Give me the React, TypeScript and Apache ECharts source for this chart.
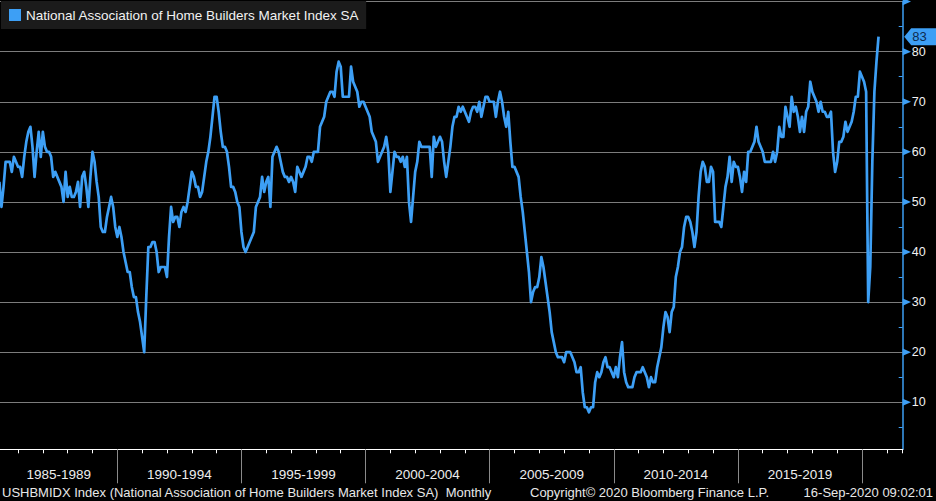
import React, { useEffect, useRef } from "react";
import * as echarts from "echarts";

const START_YEAR = 1985;
const START_MONTH = 4; // first monthly observation: April 1985

const hmi1985_1989 = [
  54, 49, 53, 58, 58, 58, 56, 59, 58,
  57, 57, 55, 59, 62, 64, 65, 61, 55, 60, 64, 59,
  64, 61, 60, 60, 59, 55, 56, 55, 54, 53, 50, 56,
  51, 53, 51, 51, 52, 54, 49, 55, 56, 53, 49, 55,
  60, 58, 54, 51, 45, 44, 44, 47, 49, 51, 49, 45,
];
const hmi1990_1994 = [
  43, 45, 43, 40, 38, 36, 36, 33, 31, 31, 28, 26,
  23, 20, 31, 41, 41, 42, 42, 40, 36, 37, 37, 37,
  35, 43, 49, 46, 47, 47, 45, 48, 49, 48, 50, 53,
  56, 55, 53, 53, 51, 52, 55, 58, 60, 63, 67, 71,
  71, 68, 64, 61, 61, 60, 57, 53, 53, 52, 50, 49,
];
const hmi1995_1999 = [
  44, 41, 40, 41, 42, 43, 44, 49, 50, 51, 55, 52,
  54, 55, 49, 59, 60, 61, 60, 58, 56, 55, 55, 54,
  55, 54, 52, 57, 56, 55, 56, 57, 59, 59, 58, 60,
  60, 60, 65, 66, 67, 70, 71, 72, 72, 71, 76, 78,
  77, 71, 71, 71, 71, 77, 74, 73, 72, 69, 70, 70,
];
const hmi2000_2004 = [
  69, 68, 67, 64, 63, 62, 58, 59, 60, 61, 63, 60,
  52, 56, 60, 59, 59, 58, 59, 57, 59, 50, 46, 51,
  56, 58, 62, 61, 61, 61, 61, 61, 55, 63, 61, 62,
  63, 62, 58, 55, 58, 61, 65, 67, 67, 69, 68, 69,
  68, 67, 66, 68, 69, 69, 68, 70, 67, 69, 71, 71,
];
const hmi2005_2009 = [
  70, 70, 70, 67, 70, 72, 70, 67, 65, 68, 62, 57,
  57, 56, 55, 51, 48, 44, 40, 36, 30, 32, 33, 33,
  35, 39, 37, 34, 31, 28, 24, 22, 20, 19, 19, 19,
  18, 20, 20, 20, 19, 18, 16, 16, 17, 12, 9, 9,
  8, 9, 9, 14, 16, 15, 16, 18, 19, 17, 17, 16,
];
const hmi2010_2014 = [
  15, 17, 15, 19, 22, 16, 14, 13, 13, 13, 15, 16,
  16, 16, 17, 16, 15, 13, 15, 14, 14, 17, 19, 21,
  25, 28, 27, 24, 28, 29, 35, 37, 40, 41, 45, 47,
  47, 46, 44, 41, 44, 51, 56, 58, 57, 54, 54, 57,
  56, 46, 46, 46, 45, 49, 53, 55, 59, 54, 58, 57,
];
const hmi2015_2019 = [
  57, 55, 52, 56, 54, 60, 60, 61, 62, 65, 62, 61,
  60, 58, 58, 58, 58, 60, 58, 60, 65, 63, 63, 69,
  67, 65, 71, 68, 69, 67, 64, 67, 64, 68, 69, 74,
  72, 71, 70, 68, 70, 68, 68, 67, 67, 68, 60, 56,
  58, 62, 62, 63, 66, 64, 65, 66, 68, 71, 71, 76,
];
const hmi2020 = [75, 74, 72, 30, 37, 58, 72, 78, 83];

const bandLabels = [
  "1985-1989",
  "1990-1994",
  "1995-1999",
  "2000-2004",
  "2005-2009",
  "2010-2014",
  "2015-2019",
  "2020-2024",
];
const yTickValues = [10, 20, 30, 40, 50, 60, 70, 80, 90];
const yLabelValues = [10, 20, 30, 40, 50, 60, 70, 80];

const SERIES_NAME = "National Association of Home Builders Market Index SA";
const FOOTER_LEFT =
  "USHBMIDX Index (National Association of Home Builders Market Index SA)  Monthly";
const FOOTER_MID = "Copyright\u00A9 2020 Bloomberg Finance L.P.";
const FOOTER_RIGHT = "16-Sep-2020 09:02:01";

const BLUE = "#3d9ff5";
const FONT = "'Liberation Sans', Arial, sans-serif";

const X_MIN = 1985;
const X_MAX = 2021.64;
const Y_MIN = 0.6;
const Y_MAX = 90;

export default function App() {
  const ref = useRef<HTMLDivElement>(null);

  useEffect(() => {
    if (!ref.current) return;
    const chart = echarts.init(ref.current, null, { renderer: "svg" });

    const values = [
      ...hmi1985_1989,
      ...hmi1990_1994,
      ...hmi1995_1999,
      ...hmi2000_2004,
      ...hmi2005_2009,
      ...hmi2010_2014,
      ...hmi2015_2019,
      ...hmi2020,
    ];
    const data = values.map((v, i) => [
      START_YEAR + (START_MONTH - 1 + i) / 12,
      v,
    ]);

    const W = 936;
    const gridTop = 1.6;
    const gridBottom = 51.7;
    const gridLeft = -6.8;
    const gridRight = 33.3;
    const yearPx = (W - gridRight - gridLeft) / (X_MAX - X_MIN);
    const bandsWidth = yearPx * 5 * bandLabels.length;
    const bandsRight = W - (gridLeft + bandsWidth);

    chart.setOption({
      animation: false,
      backgroundColor: "#000000",
      textStyle: { fontFamily: FONT },
      legend: {
        show: true,
        left: 1,
        top: 1,
        padding: [7, 7, 7, 8],
        itemWidth: 12,
        itemHeight: 12,
        icon: "rect",
        selectedMode: false,
        backgroundColor: "#1b1b1b",
        textStyle: { color: "#f2f2f2", fontSize: 13.5, fontFamily: FONT },
        data: [SERIES_NAME],
      },
      grid: [
        {
          left: gridLeft,
          right: gridRight,
          top: gridTop,
          bottom: gridBottom,
          containLabel: false,
          outerBoundsMode: "none",
        },
        {
          left: gridLeft,
          right: bandsRight,
          top: gridTop,
          bottom: gridBottom,
          containLabel: false,
          outerBoundsMode: "none",
        },
      ],
      xAxis: [
        {
          type: "value",
          gridIndex: 0,
          min: X_MIN,
          max: X_MAX,
          interval: 1,
          axisLine: { show: true, lineStyle: { color: "#ffffff", width: 1.2 } },
          axisTick: { show: true, length: 4, lineStyle: { color: "#ffffff" } },
          axisLabel: { show: false },
          splitLine: { show: false },
        },
        {
          type: "category",
          gridIndex: 1,
          data: bandLabels,
          boundaryGap: true,
          axisLine: { show: false },
          axisTick: {
            show: true,
            interval: 0,
            length: 34,
            lineStyle: { color: "#8a8a8a", width: 1 },
          },
          axisLabel: {
            interval: 0,
            color: "#eeeeee",
            fontSize: 13.5,
            fontFamily: FONT,
            margin: 18,
            formatter: (v: string, i: number) =>
              i === bandLabels.length - 1 ? "" : i === 0 ? "{first|" + v + "}" : v,
            rich: {
              first: {
                color: "#eeeeee",
                fontSize: 13.5,
                fontFamily: FONT,
                padding: [0, 0, 0, 7],
              },
            },
          },
          splitLine: { show: false },
        },
      ],
      yAxis: [
        {
          type: "value",
          gridIndex: 0,
          position: "right",
          min: Y_MIN,
          max: Y_MAX,
          minInterval: 10,
          maxInterval: 10,
          splitNumber: 9,
          axisLine: { show: true, lineStyle: { color: BLUE, width: 1.5 } },
          axisTick: { show: true, inside: true, length: 0, lineStyle: { color: BLUE } },
          minorTick: {
            show: true,
            splitNumber: 2,
            length: 4,
            lineStyle: { color: BLUE, width: 1 },
          },
          axisLabel: {
            show: true,
            margin: 9,
            color: "#f2f2f2",
            fontSize: 12.5,
            fontFamily: FONT,
            formatter: (v: number) =>
              yLabelValues.indexOf(Math.round(v * 100) / 100) >= 0 ? String(v) : "",
          },
          splitLine: { show: true, lineStyle: { color: "#7c7c7c", width: 1 } },
          minorSplitLine: { show: false },
        },
        { type: "value", gridIndex: 1, show: false },
      ],
      series: [
        {
          type: "line",
          name: SERIES_NAME,
          xAxisIndex: 0,
          yAxisIndex: 0,
          data,
          showSymbol: false,
          symbol: "none",
          clip: true,
          lineStyle: { color: BLUE, width: 2.7, join: "round" },
          itemStyle: { color: BLUE },
        },
      ],
    });

    const axisX = chart.convertToPixel({ xAxisIndex: 0 }, X_MAX) as number;
    const last = data[data.length - 1];
    const lastY = chart.convertToPixel({ yAxisIndex: 0 }, last[1]) as number;

    const arrows = yTickValues.map((v) => {
      const y = chart.convertToPixel({ yAxisIndex: 0 }, v) as number;
      return {
        type: "polygon",
        silent: true,
        shape: {
          points: [
            [axisX, y - 3.6],
            [axisX + 8.3, y],
            [axisX, y + 3.6],
          ],
        },
        style: { fill: BLUE },
      };
    });

    const footerStyle = {
      fill: "#e8e8e8",
      fontSize: 13,
      fontFamily: FONT,
      verticalAlign: "middle",
    };

    chart.setOption({
      graphic: [
        ...arrows,
        {
          type: "polygon",
          silent: true,
          shape: {
            points: [
              [axisX + 1.5, lastY],
              [axisX + 8.5, lastY - 8.5],
              [W, lastY - 8.5],
              [W, lastY + 8.5],
              [axisX + 8.5, lastY + 8.5],
            ],
          },
          style: { fill: BLUE },
        },
        {
          type: "text",
          silent: true,
          x: axisX + 9.5,
          y: lastY,
          style: {
            text: String(last[1]),
            fill: "#0e2b4f",
            fontSize: 13,
            fontFamily: FONT,
            verticalAlign: "middle",
            align: "left",
          },
        },
        {
          type: "text",
          silent: true,
          x: 2,
          y: 492,
          style: { ...footerStyle, text: FOOTER_LEFT, align: "left" },
        },
        {
          type: "text",
          silent: true,
          x: 530,
          y: 492,
          style: { ...footerStyle, text: FOOTER_MID, align: "left" },
        },
        {
          type: "text",
          silent: true,
          x: 933,
          y: 492,
          style: { ...footerStyle, text: FOOTER_RIGHT, align: "right" },
        },
      ],
    });

    return () => {
      chart.dispose();
    };
  }, []);

  return (
    <div
      ref={ref}
      style={{
        position: "fixed",
        left: 0,
        top: 0,
        width: 936,
        height: 501,
        background: "#000000",
      }}
    />
  );
}
